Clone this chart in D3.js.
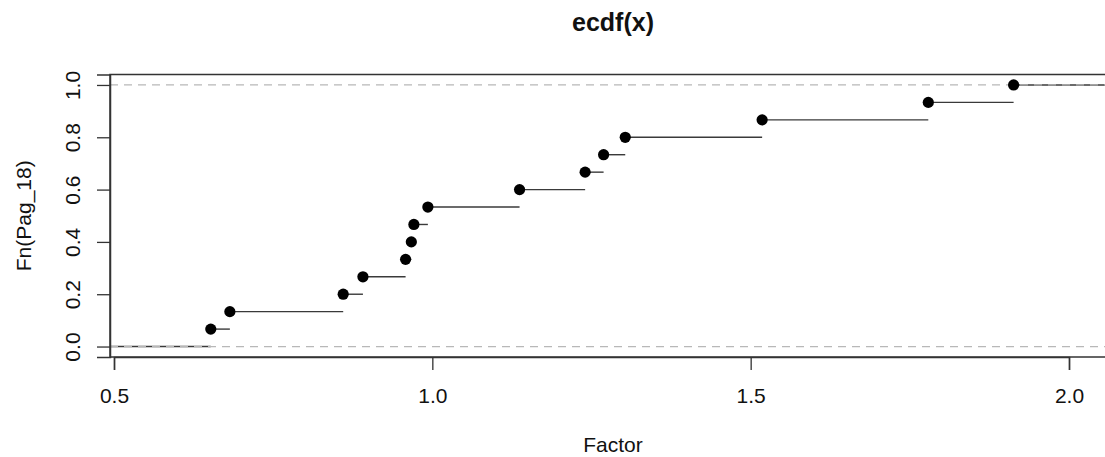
<!DOCTYPE html>
<html>
<head>
<meta charset="utf-8">
<script src="https://cdn.jsdelivr.net/npm/d3@7"></script>
<style>
  html, body { margin: 0; padding: 0; background: #fff; }
  svg { display: block; font-family: "Liberation Sans", Arial, Helvetica, sans-serif; }
</style>
</head>
<body>
<svg id="chart" width="1105" height="457"></svg>
<script>
// ---- data ----
const sortedValues = [0.652, 0.682, 0.860, 0.891, 0.958, 0.967, 0.971, 0.993,
                      1.137, 1.240, 1.269, 1.303, 1.518, 1.779, 1.913];
const xTicks = [0.5, 1.0, 1.5, 2.0];
const yTicks = [0.0, 0.2, 0.4, 0.6, 0.8, 1.0];
const refLines = [0, 1];
const titleText = "ecdf(x)";
const xLabel = "Factor";
const yLabel = "Fn(Pag_18)";

// ---- layout ----
const svg = d3.select("#chart");
const box = { left: 110, right: 1116, top: 74.5, bottom: 357 };

const x = d3.scaleLinear().domain([0.5, 2.0]).range([114, 1069]);
const y = d3.scaleLinear().domain([-0.04, 1.04]).range([box.bottom, box.top]);

const n = sortedValues.length;
const pts = sortedValues.map((v, i) => ({ x: v, y: (i + 1) / n }));
const xMin = x.invert(box.left), xMax = x.invert(box.right);

// step segments
const segs = [{ x0: xMin, x1: pts[0].x, y: 0 }];
pts.forEach((p, i) => {
  segs.push({ x0: p.x, x1: i < n - 1 ? pts[i + 1].x : xMax, y: p.y });
});

const plot = svg.append("g");
plot.selectAll("line.step").data(segs).enter().append("line")
  .attr("class", "step")
  .attr("x1", d => x(d.x0)).attr("x2", d => x(d.x1))
  .attr("y1", d => y(d.y)).attr("y2", d => y(d.y))
  .attr("stroke", "#3a3a3a").attr("stroke-width", 1.4);

// reference dashed lines
plot.selectAll("line.ref").data(refLines).enter().append("line")
  .attr("class", "ref")
  .attr("x1", box.left).attr("x2", box.right)
  .attr("y1", d => y(d)).attr("y2", d => y(d))
  .attr("stroke", "#b8b8b8").attr("stroke-width", 1.3)
  .attr("stroke-dasharray", "8,6");

// points
plot.selectAll("circle").data(pts).enter().append("circle")
  .attr("cx", d => x(d.x)).attr("cy", d => y(d.y))
  .attr("r", 5.6).attr("fill", "#000");

// box
svg.append("rect")
  .attr("x", box.left).attr("y", box.top)
  .attr("width", box.right - box.left).attr("height", box.bottom - box.top)
  .attr("fill", "none").attr("stroke", "#333").attr("stroke-width", 1.5);

// x axis
const xAxis = d3.axisBottom(x).tickValues(xTicks).tickFormat(d3.format(".1f"))
  .tickSize(13).tickPadding(18);
const gx = svg.append("g").attr("transform", `translate(0,${box.bottom})`).call(xAxis);
gx.select(".domain").attr("stroke", "#333").attr("stroke-width", 1.5);
gx.selectAll(".tick line").attr("stroke", "#333").attr("stroke-width", 1.3);
gx.selectAll(".tick text").attr("font-size", 21).attr("fill", "#111")
  .attr("font-family", "Liberation Sans, Arial, sans-serif")
  .attr("dy", null).attr("y", 46);

// y axis
const yAxis = d3.axisLeft(y).tickValues(yTicks).tickFormat(d3.format(".1f"))
  .tickSize(13).tickPadding(0);
const gy = svg.append("g").attr("transform", `translate(${box.left},0)`).call(yAxis);
gy.select(".domain").attr("stroke", "#333").attr("stroke-width", 1.5);
gy.selectAll(".tick line").attr("stroke", "#333").attr("stroke-width", 1.3);
gy.selectAll(".tick text")
  .attr("font-size", 21).attr("fill", "#111")
  .attr("font-family", "Liberation Sans, Arial, sans-serif")
  .attr("x", null).attr("dy", null)
  .attr("text-anchor", "middle")
  .attr("transform", "translate(-30,0) rotate(-90)");

// title
svg.append("text")
  .attr("x", (box.left + box.right) / 2).attr("y", 31)
  .attr("text-anchor", "middle").attr("font-weight", "bold")
  .attr("font-size", 25).attr("fill", "#111")
  .text(titleText);

// x label
svg.append("text")
  .attr("x", (box.left + box.right) / 2).attr("y", 452)
  .attr("text-anchor", "middle").attr("font-size", 21).attr("fill", "#111")
  .text(xLabel);

// y label
svg.append("text")
  .attr("transform", `translate(31,${(box.top + box.bottom) / 2}) rotate(-90)`)
  .attr("text-anchor", "middle").attr("font-size", 21).attr("fill", "#111")
  .text(yLabel);
</script>
</body>
</html>
